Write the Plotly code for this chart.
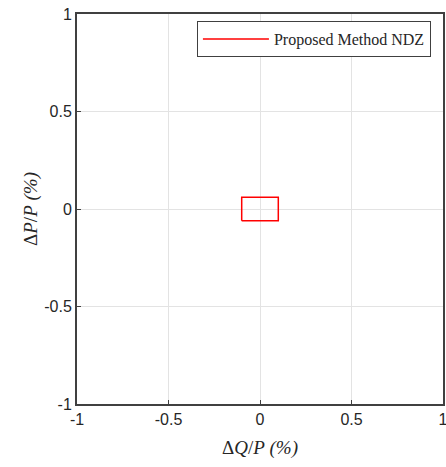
import plotly.graph_objects as go

# NDZ boundary (rectangle corners), in %
ndz_q = [-0.1, 0.1, 0.1, -0.1, -0.1]
ndz_p = [-0.06, -0.06, 0.06, 0.06, -0.06]
tick_vals = [-1, -0.5, 0, 0.5, 1]
tick_text = ["-1", "-0.5", "0", "0.5", "1"]

fig = go.Figure()
fig.add_trace(go.Scatter(
    x=ndz_q, y=ndz_p, mode="lines",
    line=dict(color="#ff0000", width=1.5),
    name="Proposed Method NDZ",
))

axis_common = dict(
    range=[-1, 1], tickvals=tick_vals, ticktext=tick_text,
    showgrid=True, gridcolor="#e3e3e3", gridwidth=1,
    zeroline=False, showline=True, linecolor="#404040", linewidth=2,
    mirror=True, ticks="inside", ticklen=4, tickcolor="#404040",
    tickfont=dict(family="Liberation Sans, Arial", size=16, color="#262626"),
    automargin=False, ticklabeloverflow="allow",
)

fig.update_layout(
    width=446, height=467,
    margin=dict(l=77, r=3, t=14, b=63),
    paper_bgcolor="white", plot_bgcolor="white",
    showlegend=True,
    legend=dict(
        x=0.967, y=0.982, xanchor="right", yanchor="top",
        bordercolor="#404040", borderwidth=1, bgcolor="white",
        font=dict(family="Liberation Serif, Times New Roman", size=16, color="#262626"),
        itemwidth=66,
    ),
    xaxis=dict(**axis_common,
               title=dict(text="Δ<i>Q</i>/<i>P</i> <i>(%)</i>",
                          font=dict(family="Liberation Serif, Times New Roman", size=19, color="#262626"),
                          standoff=13)),
    yaxis=dict(**axis_common,
               title=dict(text="Δ<i>P</i>/<i>P</i> <i>(%)</i>",
                          font=dict(family="Liberation Serif, Times New Roman", size=19, color="#262626"),
                          standoff=2)),
)

fig.write_html("out.html", config={"displayModeBar": False},
               post_script="document.body.style.margin='0';document.body.style.overflow='hidden';")
